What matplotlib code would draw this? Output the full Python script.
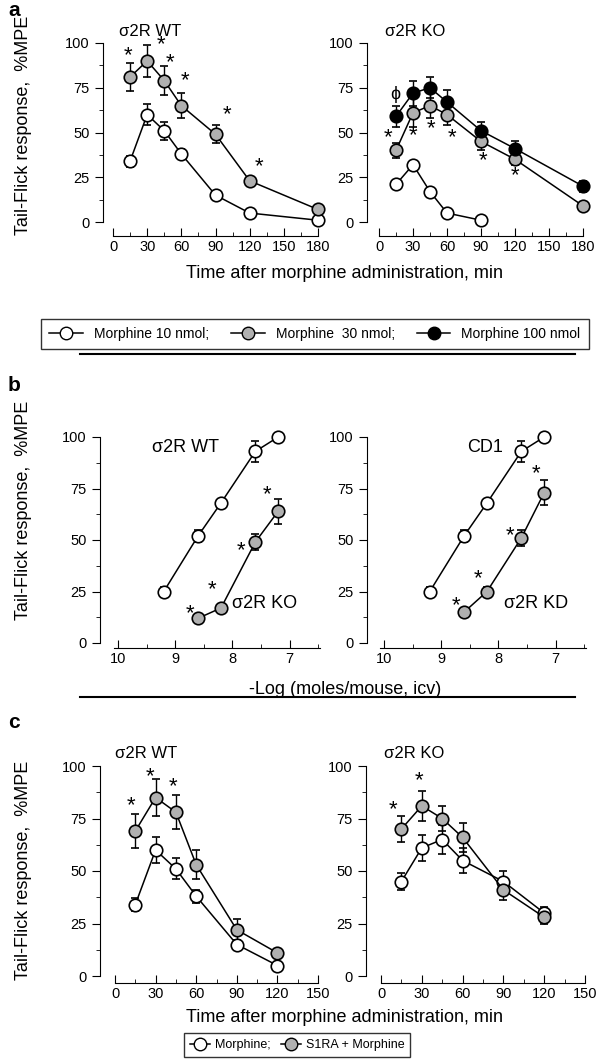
import matplotlib
matplotlib.use("Agg")
import matplotlib.pyplot as plt
import numpy as np
from matplotlib.ticker import FixedLocator
from matplotlib.lines import Line2D

plt.rcParams['font.family'] = ['Liberation Sans', 'DejaVu Sans']

# ---------- data ----------
a_t = [15, 30, 45, 60, 90, 120, 180]
a_wt10 = [34, 60, 51, 38, 15, 5, 1];    a_wt10_e = [3, 6, 5, 3, 2, 1, 1]
a_wt30 = [81, 90, 79, 65, 49, 23, 7];   a_wt30_e = [8, 9, 8, 7, 5, 2, 2]
a_ko10_t = [15, 30, 45, 60, 90]
a_ko10 = [21, 32, 17, 5, 1];            a_ko10_e = [1, 1, 1, 1, 1]
a_ko30 = [40, 61, 65, 60, 45, 35, 9];   a_ko30_e = [4, 8, 7, 6, 5, 3, 2]
a_ko100 = [59, 72, 75, 67, 51, 41, 20]; a_ko100_e = [6, 7, 6, 7, 5, 4, 3]
a_wt_stars = [(13, 93), (42, 99), (50, 89), (63, 79), (100, 60), (128, 31)]
a_ko_stars = [(8, 47), (30, 48), (46, 52), (64, 47), (92, 34), (120, 26)]

b_x_open = [9.2, 8.6, 8.2, 7.6, 7.2]
b_wt = [25, 52, 68, 93, 100];  b_wt_e = [2, 3, 2, 5, 1]
b_x_gray = [8.6, 8.2, 7.6, 7.2]
b_ko = [12, 17, 49, 64];       b_ko_e = [1, 2, 4, 6]
b_cd1 = [25, 52, 68, 93, 100]; b_cd1_e = [2, 3, 2, 5, 1]
b_kd = [15, 25, 51, 73];       b_kd_e = [1, 2, 4, 6]
b_l_stars = [(8.75, 14), (8.35, 26), (7.85, 45), (7.4, 72)]
b_r_stars = [(8.75, 18), (8.35, 31), (7.8, 52), (7.35, 82)]

c_t = [15, 30, 45, 60, 90, 120]
c_wt_m = [34, 60, 51, 38, 15, 5];   c_wt_m_e = [3, 6, 5, 3, 2, 1]
c_wt_s = [69, 85, 78, 53, 22, 11];  c_wt_s_e = [8, 9, 8, 7, 5, 2]
c_ko_m = [45, 61, 65, 55, 45, 30];  c_ko_m_e = [4, 6, 7, 6, 5, 3]
c_ko_s = [70, 81, 75, 66, 41, 28];  c_ko_s_e = [6, 7, 6, 7, 5, 3]
c_wt_stars = [(12, 81), (26, 95), (43, 90)]
c_ko_stars = [(9, 79), (28, 93)]

W, H = 597, 1061
fig = plt.figure(figsize=(W / 100, H / 100), dpi=100)

def mkax(x0, x1, y100, y0, yaxis_x, xaxis_y, xlim, xmaj, xmin_, xbounds):
    ax = fig.add_axes([x0 / W, 1 - y0 / H, (x1 - x0) / W, (y0 - y100) / H])
    ax.set_xlim(*xlim)
    ax.set_ylim(0, 100)
    for s in ['top', 'right']:
        ax.spines[s].set_visible(False)
    ax.spines['left'].set_position(('outward', (x0 - yaxis_x) * 0.72))
    ax.spines['bottom'].set_position(('outward', (xaxis_y - y0) * 0.72))
    ax.spines['left'].set_bounds(0, 100)
    ax.spines['bottom'].set_bounds(*xbounds)
    ax.yaxis.set_major_locator(FixedLocator([0, 25, 50, 75, 100]))
    ax.yaxis.set_minor_locator(FixedLocator([12.5, 37.5, 62.5, 87.5]))
    ax.xaxis.set_major_locator(FixedLocator(xmaj))
    ax.xaxis.set_minor_locator(FixedLocator(xmin_))
    ax.tick_params(axis='y', which='major', direction='out', length=6, labelsize=10.5)
    ax.tick_params(axis='y', which='minor', direction='out', length=3)
    ax.tick_params(axis='x', which='major', direction='in', length=6, labelsize=10.5, pad=3)
    ax.tick_params(axis='x', which='minor', direction='in', length=3)
    ax.patch.set_visible(False)
    return ax

def series(ax, x, y, e, fc):
    ax.errorbar(x, y, yerr=e, fmt='-o', color='black', mfc=fc, mec='black', ms=9,
                mew=1.2, lw=1.1, capsize=3, elinewidth=1, clip_on=False, zorder=3)

def stars(ax, pts):
    for x, y in pts:
        ax.text(x, y, '*', fontsize=16, ha='center', va='center')

# ---------- panel a ----------
ta = [0, 30, 60, 90, 120, 150, 180]; tam = [15, 45, 75, 105, 135, 165]
axa1 = mkax(113, 318, 43, 222, 103, 236, (0, 180), ta, tam, (0, 180))
series(axa1, a_t, a_wt10, a_wt10_e, 'white')
series(axa1, a_t, a_wt30, a_wt30_e, '#b0b0b0')
stars(axa1, a_wt_stars)
axa1.text(5, 104, 'σ2R WT', fontsize=12)

axa2 = mkax(379, 583, 43, 222, 367, 236, (0, 180), ta, tam, (0, 180))
series(axa2, a_ko10_t, a_ko10, a_ko10_e, 'white')
series(axa2, a_t, a_ko30, a_ko30_e, '#b0b0b0')
series(axa2, a_t, a_ko100, a_ko100_e, 'black')
stars(axa2, a_ko_stars)
axa2.text(14, 71, 'ϕ', fontsize=13, ha='center', va='center')
axa2.text(5, 104, 'σ2R KO', fontsize=12)

fig.text(345 / W, 1 - 273 / H, 'Time after morphine administration, min', ha='center', va='center', fontsize=13)
fig.text(8 / W, 1 - 10 / H, 'a', fontsize=15, fontweight='bold', va='center')
fig.text(24 / W, 1 - 125 / H, 'Tail-Flick response,  %MPE', rotation=90, ha='center', va='center', fontsize=13)

h = [Line2D([], [], color='black', marker='o', mfc=c, mec='black', ms=9, lw=1.1) for c in ['white', '#b0b0b0', 'black']]
fig.legend(h, ['Morphine 10 nmol;', 'Morphine  30 nmol;', 'Morphine 100 nmol'], ncol=3,
           loc='center', bbox_to_anchor=(315 / W, 1 - 334 / H), frameon=True, fancybox=False,
           edgecolor='black', fontsize=10, handlelength=2.4, columnspacing=1.6,
           borderpad=0.6).get_frame().set_linewidth(1.0)
fig.add_artist(Line2D([80 / W, 575 / W], [1 - 354 / H] * 2, color='black', lw=1.5))

# ---------- panel b ----------
bx_maj = [10, 9, 8, 7]; bx_min = [9.5, 8.5, 7.5, 6.5]
axb1 = mkax(114, 320, 437, 643, 100, 648, (10.07, 6.47), bx_maj, bx_min, (10.07, 6.47))
series(axb1, b_x_open, b_wt, b_wt_e, 'white')
series(axb1, b_x_gray, b_ko, b_ko_e, '#b0b0b0')
stars(axb1, b_l_stars)
axb1.text(9.4, 95, 'σ2R WT', fontsize=13, va='center')
axb1.text(8.0, 19, 'σ2R KO', fontsize=13, va='center')

axb2 = mkax(380, 586, 437, 643, 367, 648, (10.07, 6.47), bx_maj, bx_min, (10.07, 6.47))
series(axb2, b_x_open, b_cd1, b_cd1_e, 'white')
series(axb2, b_x_gray, b_kd, b_kd_e, '#b0b0b0')
stars(axb2, b_r_stars)
axb2.text(8.55, 95, 'CD1', fontsize=13, va='center')
axb2.text(7.9, 19, 'σ2R KD', fontsize=13, va='center')

fig.text(345 / W, 1 - 690 / H, '-Log (moles/mouse, icv)', ha='center', va='center', fontsize=13)
fig.text(8 / W, 1 - 385 / H, 'b', fontsize=15, fontweight='bold', va='center')
fig.text(24 / W, 1 - 510 / H, 'Tail-Flick response,  %MPE', rotation=90, ha='center', va='center', fontsize=13)
fig.add_artist(Line2D([80 / W, 575 / W], [1 - 697 / H] * 2, color='black', lw=1.5))

# ---------- panel c ----------
tc = [0, 30, 60, 90, 120, 150]; tcm = [15, 45, 75, 105, 135]
axc1 = mkax(115, 318, 766, 976, 100, 983, (0, 150), tc, tcm, (0, 150))
series(axc1, c_t, c_wt_m, c_wt_m_e, 'white')
series(axc1, c_t, c_wt_s, c_wt_s_e, '#b0b0b0')
stars(axc1, c_wt_stars)
axc1.text(0, 104, 'σ2R WT', fontsize=12)

axc2 = mkax(381, 585, 766, 976, 366, 983, (0, 150), tc, tcm, (0, 150))
series(axc2, c_t, c_ko_m, c_ko_m_e, 'white')
series(axc2, c_t, c_ko_s, c_ko_s_e, '#b0b0b0')
stars(axc2, c_ko_stars)
axc2.text(2, 104, 'σ2R KO', fontsize=12)

fig.text(345 / W, 1 - 1018 / H, 'Time after morphine administration, min', ha='center', va='center', fontsize=13)
fig.text(8 / W, 1 - 722 / H, 'c', fontsize=15, fontweight='bold', va='center')
fig.text(24 / W, 1 - 870 / H, 'Tail-Flick response,  %MPE', rotation=90, ha='center', va='center', fontsize=13)

h2 = [Line2D([], [], color='black', marker='o', mfc=c, mec='black', ms=9, lw=1.1) for c in ['white', '#b0b0b0']]
fig.legend(h2, ['Morphine;', 'S1RA + Morphine'], ncol=2, loc='center',
           bbox_to_anchor=(297 / W, 1 - 1045 / H), frameon=True, fancybox=False,
           edgecolor='black', fontsize=9, handlelength=1.6, columnspacing=0.8,
           handletextpad=0.4, borderpad=0.5).get_frame().set_linewidth(1.0)

fig.savefig('out.png', dpi=100)
